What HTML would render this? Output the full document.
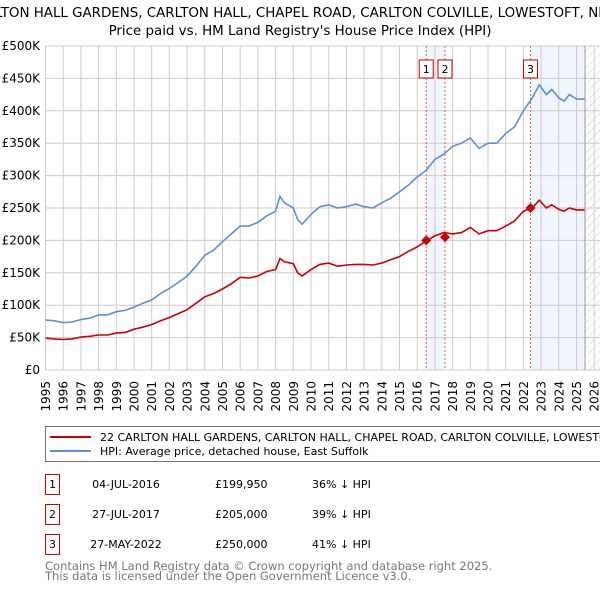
<!DOCTYPE html>
<html><head><meta charset="utf-8"><style>
body{margin:0;background:#fff;width:600px;height:590px;overflow:hidden;font-family:"DejaVu Sans","Liberation Sans",sans-serif}
</style></head><body>
<svg id="chart" width="600" height="590" xmlns="http://www.w3.org/2000/svg" font-family="DejaVu Sans, Liberation Sans, sans-serif">
<defs><pattern id="hatch" width="6" height="6" patternUnits="userSpaceOnUse" patternTransform="rotate(45)"><line x1="0" y1="0" x2="0" y2="6" stroke="#ccc" stroke-width="1"/></pattern></defs>
<text x="300" y="17" text-anchor="middle" font-size="13.4">22 CARLTON HALL GARDENS, CARLTON HALL, CHAPEL ROAD, CARLTON COLVILLE, LOWESTOFT, NR33 8BL</text>
<text x="300" y="35" text-anchor="middle" font-size="13.4">Price paid vs. HM Land Registry's House Price Index (HPI)</text>
<g id="plot"></g>
<g>
<rect x="45.5" y="426.5" width="580" height="35" fill="#fff" stroke="#777"/>
<line x1="50" y1="437" x2="91" y2="437" stroke="#cc0000" stroke-width="2"/>
<text x="100" y="441" font-size="11">22 CARLTON HALL GARDENS, CARLTON HALL, CHAPEL ROAD, CARLTON COLVILLE, LOWESTOFT, NR33 8BL (detached house)</text>
<line x1="50" y1="451" x2="91" y2="451" stroke="#5b8fd6" stroke-width="2"/>
<text x="100" y="455" font-size="11">HPI: Average price, detached house, East Suffolk</text>
</g>
<g id="table" font-size="11"></g>
<text x="45" y="570" font-size="11.5" fill="#777">Contains HM Land Registry data © Crown copyright and database right 2025.</text>
<text x="45" y="580" font-size="11.5" fill="#777">This data is licensed under the Open Government Licence v3.0.</text>
</svg>
<script>
const years=[1995,1995.5,1996,1996.5,1997,1997.5,1998,1998.5,1999,1999.5,2000,2000.5,2001,2001.5,2002,2002.5,2003,2003.5,2004,2004.5,2005,2005.5,2006,2006.5,2007,2007.5,2008,2008.25,2008.5,2009,2009.25,2009.5,2010,2010.5,2011,2011.5,2012,2012.5,2013,2013.5,2014,2014.5,2015,2015.5,2016,2016.5,2017,2017.5,2018,2018.5,2019,2019.5,2020,2020.5,2021,2021.5,2022,2022.5,2022.9,2023.3,2023.6,2024,2024.3,2024.6,2025,2025.45];
const hpiValues=[77,76,73,74,78,80,85,85,90,92,97,103,108,118,126,135,145,160,177,185,198,210,222,222,228,238,245,268,258,250,232,225,240,252,255,250,252,256,252,250,258,265,275,285,298,308,325,333,345,350,358,342,350,350,365,375,400,420,440,425,433,420,415,425,418,418];
const priceValues=[49,48,47,48,51,52,54,54,57,58,63,66,70,76,81,87,93,103,113,118,125,133,143,142,145,152,155,172,167,164,150,145,155,163,165,160,162,163,163,162,165,170,175,183,190,199,207,212,210,212,220,210,215,215,222,230,245,250,262,250,255,248,245,250,247,247];
const saleYears=[2016.51,2017.57,2022.4];
const salePrices=[199.95,205,250];
const saleLabels=["1","2","3"];
const saleDates=["04-JUL-2016","27-JUL-2017","27-MAY-2022"];
const salePriceText=["£199,950","£205,000","£250,000"];
const saleHpiText=["36% ↓ HPI","39% ↓ HPI","41% ↓ HPI"];
const yTicks=[0,50,100,150,200,250,300,350,400,450,500];
const xTicks=[];for(let y=1995;y<=2026;y++)xTicks.push(y);
const dataEnd=2025.48;

const NS="http://www.w3.org/2000/svg";
const X=y=>45.5+(y-1995)*17.7, Y=v=>370-v*0.648;
function mk(t,a,p){const e=document.createElementNS(NS,t);for(const k in a)e.setAttribute(k,a[k]);(p||plot).appendChild(e);return e;}
const plot=document.getElementById('plot');
let s=mk('rect',{x:X(saleYears[0]),y:Y(500),width:X(saleYears[1])-X(saleYears[0]),height:Y(0)-Y(500),fill:'#eef3fc',opacity:0.8});

s=mk('rect',{x:X(saleYears[2]),y:Y(500),width:X(dataEnd)-X(saleYears[2]),height:Y(0)-Y(500),fill:'#eef3fc',opacity:0.8});

s=mk('rect',{x:X(dataEnd),y:Y(500),width:600-X(dataEnd),height:Y(0)-Y(500),fill:'url(#hatch)'});

yTicks.forEach(v=>{const l=mk('line',{x1:X(1995),x2:600,y1:Y(v),y2:Y(v),stroke:'#ccc'});

const t=mk('text',{x:40,y:Y(v)+4,'text-anchor':'end','font-size':12});t.textContent=v===0?'£0':'£'+v+'K';
});
xTicks.forEach(yr=>{const l=mk('line',{x1:X(yr),x2:X(yr),y1:Y(500),y2:Y(0),stroke:'#ccc'});

const t=mk('text',{x:0,y:0,'text-anchor':'end','font-size':12,transform:`translate(${X(yr)+4.5},381) rotate(-90)`});t.textContent=yr;
});
const el=mk('line',{x1:X(dataEnd),x2:X(dataEnd),y1:Y(500),y2:Y(0),stroke:'#999'});

saleYears.forEach((yr,i)=>{const l=mk('line',{x1:X(yr),x2:X(yr),y1:Y(500),y2:Y(0),stroke:'#e06060','stroke-dasharray':'2,2'});

const r=mk('rect',{x:X(yr)-7,y:60,width:14,height:18,fill:'#fff',stroke:'#cc0000'});

const t=mk('text',{x:X(yr),y:73,'text-anchor':'middle','font-size':11});t.textContent=saleLabels[i];
});
const path=vals=>vals.map((v,i)=>(i?'L':'M')+X(years[i]).toFixed(1)+','+Y(v).toFixed(1)).join('');
const h=mk('path',{d:path(hpiValues),fill:'none',stroke:'#5b8fd6','stroke-width':1.6});

const p=mk('path',{d:path(priceValues),fill:'none',stroke:'#cc0000','stroke-width':1.6});

saleYears.forEach((yr,i)=>{const cx=X(yr),cy=Y(salePrices[i]);
const d=mk('path',{d:`M${cx-5},${cy}L${cx},${cy-5}L${cx+5},${cy}L${cx},${cy+5}Z`,fill:'#cc0000'});
});
const tb=document.getElementById('table');
saleLabels.forEach((lab,i)=>{const y=484+i*30;
const r=mk('rect',{x:45.5,y:y-9.5,width:14,height:20,fill:'#fff',stroke:'#cc0000'},tb);

const cells=[[52.5,lab,'middle'],[126,saleDates[i],'middle'],[215,salePriceText[i],'start'],[312,saleHpiText[i],'start']];
cells.forEach(c=>{const t=mk('text',{x:c[0],y:y+4,'text-anchor':c[2]},tb);t.textContent=c[1];
});});
</script>
</body></html>
